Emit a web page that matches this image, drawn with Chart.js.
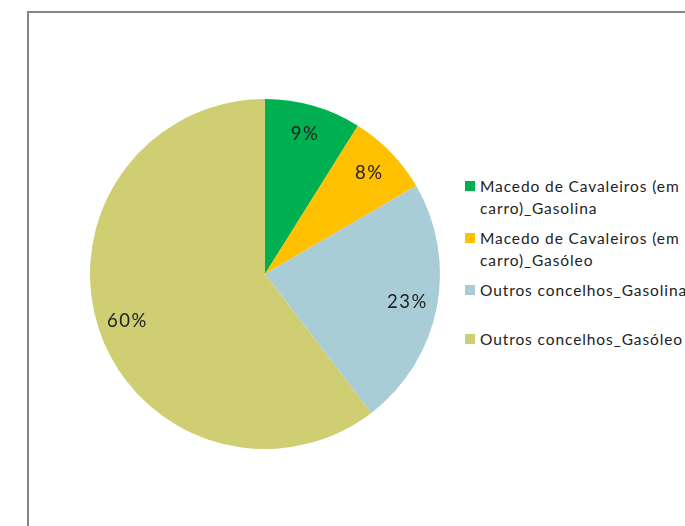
<!DOCTYPE html>
<html lang="pt">
<head>
    <meta charset="UTF-8">
    <title>Combustível</title>
    <script src="https://cdn.jsdelivr.net/npm/chart.js"></script>
    <style>
        body {
            margin: 0;
            width: 685px;
            height: 526px;
            overflow: hidden;
            background: #fff;
            position: relative;
            font-family: Lato, "Open Sans", sans-serif;
        }

        .frame {
            position: absolute;
            left: 27px;
            top: 11px;
            width: 720px;
            height: 600px;
            border: 2px solid #858585;
        }

        .pie-box {
            position: absolute;
            left: 65px;
            top: 74px;
            width: 400px;
            height: 400px;
        }

        .legend {
            position: absolute;
            left: 465px;
            top: 175px;
            width: 280px;
            font-size: 15.5px;
            letter-spacing: 0.9px;
            color: #222;
            line-height: 22px;
        }

        .legend-item {
            position: absolute;
            left: 0;
            white-space: nowrap;
        }

        .legend-item .box {
            position: absolute;
            left: 0;
            top: 6px;
            width: 10px;
            height: 10px;
        }

        .legend-item .txt {
            margin-left: 15px;
        }
    </style>
</head>
<body>
    <div class="frame"></div>
    <div class="pie-box">
        <canvas id="pieChart" width="400" height="400"></canvas>
    </div>
    <div class="legend" id="legend"></div>

    <script>
        const labels = [
            "Macedo de Cavaleiros (em carro)_Gasolina",
            "Macedo de Cavaleiros (em carro)_Gasóleo",
            "Outros concelhos_Gasolina",
            "Outros concelhos_Gasóleo"
        ];
        const legendLines = [
            ["Macedo de Cavaleiros (em", "carro)_Gasolina"],
            ["Macedo de Cavaleiros (em", "carro)_Gasóleo"],
            ["Outros concelhos_Gasolina"],
            ["Outros concelhos_Gasóleo"]
        ];
        const shares = [8.9, 7.7, 23.0, 60.4];
        const colors = ["#00b050", "#ffc000", "#a9cdd7", "#cfce73"];
        const legendTops = [0, 52, 104, 153];

        // legend built from the same arrays
        const legendEl = document.getElementById("legend");
        legendLines.forEach((lines, i) => {
            let item = document.createElement("div");
            item.className = "legend-item";
            item.style.top = legendTops[i] + "px";
            item.innerHTML = '<span class="box" style="background:' + colors[i] + '"></span>' +
                '<div class="txt">' + lines.join("<br>") + '</div>';
            legendEl.appendChild(item);
        });

        // percent labels inside slices
        const pctLabels = {
            id: "pctLabels",
            afterDatasetsDraw(chart) {
                const ctx = chart.ctx;
                const meta = chart.getDatasetMeta(0);
                ctx.save();
                ctx.font = "18.5px Lato, 'Open Sans', sans-serif";
                ctx.letterSpacing = "1.5px";
                ctx.fillStyle = "#222";
                ctx.textAlign = "center";
                ctx.textBaseline = "middle";
                meta.data.forEach((arc, i) => {
                    const p = arc.getProps(["x", "y", "startAngle", "endAngle", "outerRadius"], true);
                    const mid = (p.startAngle + p.endAngle) / 2;
                    const r = p.outerRadius * 0.83;
                    ctx.fillText(Math.round(shares[i]) + "%", p.x + Math.cos(mid) * r, p.y + Math.sin(mid) * r);
                });
                ctx.restore();
            }
        };

        new Chart(document.getElementById("pieChart"), {
            type: "pie",
            data: {
                labels: labels,
                datasets: [{ data: shares, backgroundColor: colors, borderWidth: 0 }]
            },
            options: {
                responsive: false,
                animation: false,
                layout: { padding: 25 },
                plugins: {
                    legend: { display: false },
                    tooltip: { enabled: false }
                }
            },
            plugins: [pctLabels]
        });
    </script>
</body>
</html>
